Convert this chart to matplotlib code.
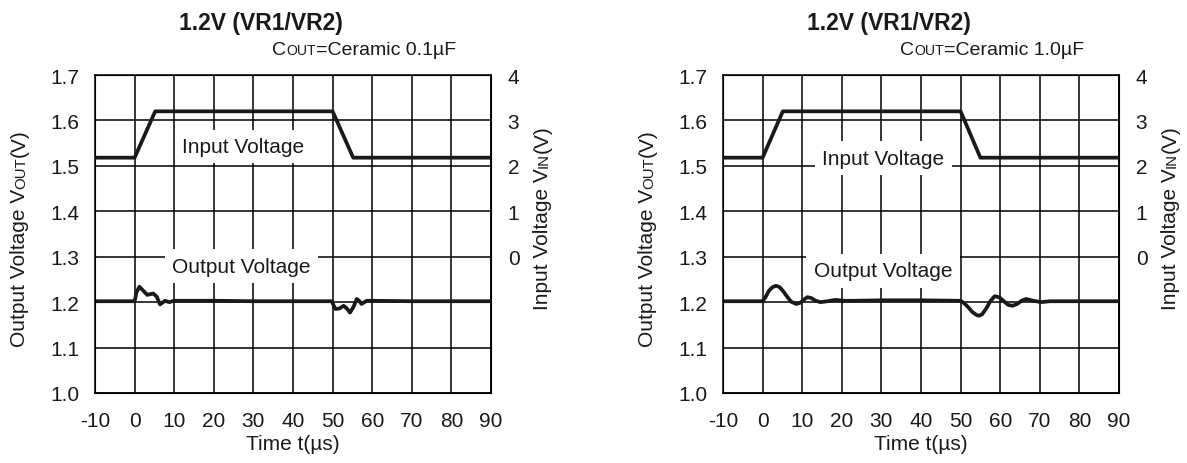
import numpy as np
import matplotlib
matplotlib.use("Agg")
import matplotlib.pyplot as plt
from matplotlib.transforms import IdentityTransform

FONT = ["Liberation Sans", "DejaVu Sans"]
plt.rcParams['font.family'] = FONT
plt.rcParams['axes.unicode_minus'] = False

# time axis ticks
time_ticks = [-10, 0, 10, 20, 30, 40, 50, 60, 70, 80, 90]
vout_ticks = [1.0, 1.1, 1.2, 1.3, 1.4, 1.5, 1.6, 1.7]
vin_ticks = [0, 1, 2, 3, 4]

# input step (same on both panels), right axis volts
vin_t_left = [-10, 0, 5.2, 50, 55.2, 90]
vin_v_left = [2.18, 2.18, 3.2, 3.2, 2.18, 2.18]
vin_t_right = [-10, 0, 5.1, 50, 55.0, 90]
vin_v_right = [2.18, 2.18, 3.2, 3.2, 2.18, 2.18]

# output, Cout = 0.1uF
vout_t_01 = [-10, 0, 0.5, 1.2, 2.2, 3.2, 4.7, 5.6, 6.4, 7.7, 8.7, 10, 20, 30, 40, 49.8,
             50.3, 50.7, 51.7, 52.8, 53.6, 54.4, 55.3, 56.1, 56.7, 57.3, 58.6, 60, 70, 80, 90]
vout_v_01 = [1.202, 1.202, 1.222, 1.234, 1.225, 1.216, 1.219, 1.212, 1.195, 1.203, 1.200, 1.203,
             1.203, 1.202, 1.202, 1.202, 1.192, 1.185, 1.186, 1.192, 1.186, 1.177, 1.190, 1.207,
             1.203, 1.196, 1.203, 1.203, 1.202, 1.202, 1.202]

# output, Cout = 1.0uF
vout_t_10 = [-10, 0, 0.8, 1.6, 2.5, 3.4, 4.3, 5.2, 6.2, 7.2, 8.5, 9.6, 10.5, 11.3, 12.3, 13.4,
             14.6, 16.4, 18.4, 20.5, 23, 30, 40, 50, 51, 52, 53, 54, 54.6, 55.4, 56.4, 57.5,
             58.6, 59.7, 60.8, 62, 63.1, 64.3, 65.4, 66.5, 68.4, 70.3, 72.5, 76, 80, 90]
vout_v_10 = [1.202, 1.202, 1.212, 1.225, 1.233, 1.236, 1.233, 1.224, 1.212, 1.201, 1.196, 1.199,
             1.206, 1.211, 1.209, 1.203, 1.200, 1.202, 1.205, 1.203, 1.203, 1.204, 1.204, 1.203,
             1.197, 1.188, 1.178, 1.172, 1.170, 1.173, 1.185, 1.202, 1.213, 1.211, 1.203, 1.194,
             1.192, 1.196, 1.203, 1.207, 1.203, 1.200, 1.202, 1.202, 1.202, 1.202]

title = "1.2V (VR1/VR2)"
cout_labels = ["=Ceramic 0.1\u00b5F", "=Ceramic 1.0\u00b5F"]

FS = 15
fig = plt.figure(figsize=(11.87, 4.64), dpi=100)
H = 464


def rich_text(x, y, parts, size, rotation=0, ha='center', weight='normal'):
    # parts: (string, scale); x, y are pixels from top-left
    r = fig.canvas.get_renderer()
    widths = []
    for s, k in parts:
        t = fig.text(0, 0, s, fontsize=size * k, weight=weight)
        widths.append(t.get_window_extent(r).width)
        t.remove()
    total = sum(widths)
    pos = {'center': -total / 2, 'right': -total, 'left': 0}[ha]
    for (s, k), w in zip(parts, widths):
        if rotation == 90:
            xx, yy = x, H - y + pos
        else:
            xx, yy = x + pos, H - y
        fig.text(xx, yy, s, fontsize=size * k, weight=weight, transform=IdentityTransform(),
                 rotation=rotation, rotation_mode='anchor', ha='left', va='baseline',
                 color='#1a1a1a')
        pos += w


panels = [
    (95, vin_t_left, vin_v_left, vout_t_01, vout_v_01, (27.4, 1.543), (27.0, 1.279), cout_labels[0]),
    (723, vin_t_right, vin_v_right, vout_t_10, vout_v_10, (30.5, 1.517), (30.4, 1.269), cout_labels[1]),
]

for x0, tin, vin, tout, vout, in_pos, out_pos, cout in panels:
    ax = fig.add_axes([x0 / 1187, 70 / H, 396 / 1187, 318 / H])
    ax.set_xlim(-10, 90)
    ax.set_ylim(1.0, 1.7)
    ax.set_xticks(time_ticks)
    ax.set_yticks(vout_ticks)
    ax.set_yticklabels([f"{v:.1f}" for v in vout_ticks])
    ax.grid(True, color='black', linewidth=1.1)
    ax.tick_params(length=0, labelsize=FS, pad=13, labelcolor='#1a1a1a')
    ax.tick_params(axis='y', pad=11)
    for sp in ax.spines.values():
        sp.set_linewidth(1.1)
    ax.set_xlabel("Time t(\u00b5s)", fontsize=FS, labelpad=3, color='#1a1a1a')
    ax.plot(tout, vout, color='#1a1a1a', linewidth=2.7, zorder=3)
    ax.text(in_pos[0], in_pos[1], "Input Voltage", fontsize=FS, ha='center', va='center', zorder=4,
            color='#1a1a1a',
            bbox=dict(boxstyle='square,pad=0.35', facecolor='white', edgecolor='none'))
    ax.text(out_pos[0], out_pos[1], "Output Voltage", fontsize=FS, ha='center', va='center', zorder=4,
            color='#1a1a1a',
            bbox=dict(boxstyle='square,pad=0.35', facecolor='white', edgecolor='none'))

    ax2 = ax.twinx()
    ax2.set_ylim(-3, 4)
    ax2.set_yticks(vin_ticks)
    ax2.tick_params(length=0, labelsize=FS, pad=12, labelcolor='#1a1a1a')
    ax2.plot(tin, vin, color='#1a1a1a', linewidth=2.7, zorder=3)

    x1 = x0 + 396
    rich_text((x0 + x1) / 2 - 32, 30, [(title, 1.0)], 16.5, weight='bold')
    rich_text(x1 - 35, 55, [("C", 1.0), ("OUT", 0.72), (cout, 1.0)], 14, ha='right')
    rich_text(x0 - 70, 238, [("Output Voltage V", 1.0), ("OUT", 0.72), ("(V)", 1.0)], FS, rotation=90)
    rich_text(x1 + 57, 218, [("Input Voltage V", 1.0), ("IN", 0.72), ("(V)", 1.0)], FS, rotation=90)

fig.savefig("out.png", dpi=100)
